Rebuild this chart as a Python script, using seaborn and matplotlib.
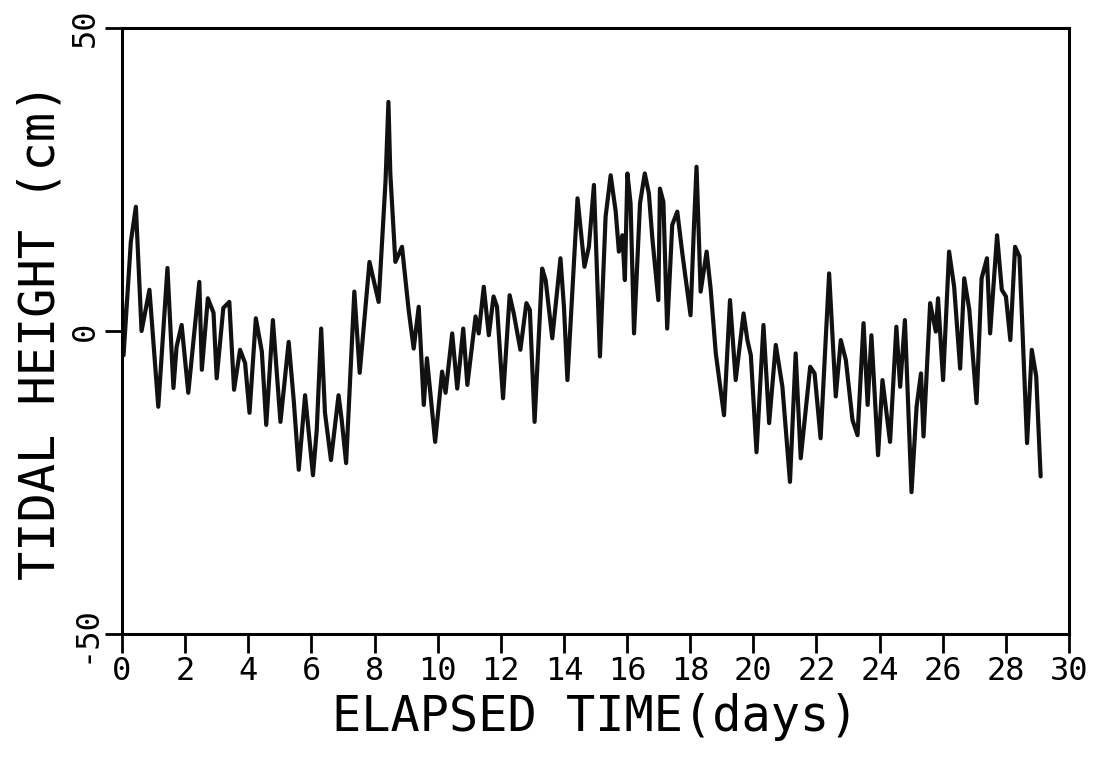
import numpy as np
import pandas as pd
import matplotlib
matplotlib.use('Agg')
import matplotlib.pyplot as plt
import seaborn as sns

## Data (elapsed time in days, tidal height in cm)
days = [0.0, 0.05, 0.28, 0.44, 0.62, 0.87, 1.15, 1.44, 1.63, 1.73, 1.89, 2.1, 2.45, 2.53,
        2.72, 2.9, 3.0, 3.21, 3.4, 3.55, 3.74, 3.9, 4.04, 4.24, 4.43, 4.57, 4.78, 5.02,
        5.28, 5.44, 5.6, 5.8, 6.05, 6.17, 6.31, 6.43, 6.62, 6.86, 6.96, 7.1, 7.36, 7.53,
        7.84, 8.13, 8.35, 8.44, 8.5, 8.66, 8.87, 9.08, 9.24, 9.4, 9.56, 9.66, 9.92, 10.14,
        10.25, 10.46, 10.62, 10.81, 10.94, 11.2, 11.3, 11.46, 11.62, 11.77, 11.88, 12.07,
        12.28, 12.41, 12.62, 12.81, 12.92, 13.07, 13.31, 13.42, 13.63, 13.89, 14.0, 14.11,
        14.43, 14.65, 14.79, 14.95, 15.14, 15.32, 15.48, 15.64, 15.74, 15.85, 15.93, 16.01,
        16.11, 16.22, 16.41, 16.56, 16.69, 16.8, 16.99, 17.04, 17.15, 17.27, 17.43, 17.59,
        17.75, 18.01, 18.12, 18.2, 18.33, 18.52, 18.65, 18.81, 19.07, 19.26, 19.44, 19.69,
        19.81, 19.92, 20.1, 20.32, 20.5, 20.71, 20.92, 21.16, 21.34, 21.5, 21.8, 21.94,
        22.13, 22.4, 22.61, 22.77, 22.93, 23.14, 23.3, 23.49, 23.62, 23.74, 23.95, 24.09,
        24.33, 24.53, 24.65, 24.8, 25.01, 25.17, 25.31, 25.39, 25.6, 25.78, 25.85, 26.01,
        26.2, 26.36, 26.55, 26.68, 26.84, 27.07, 27.23, 27.4, 27.5, 27.72, 27.87, 28.0,
        28.14, 28.29, 28.43, 28.67, 28.82, 28.96, 29.1]
height = [5, -4, 14.7, 20.5, 0, 6.8, -12.5, 10.4, -9.4, -2.6, 1, -10.2, 8.1, -6.4,
          5.4, 3, -7.8, 3.8, 4.8, -9.7, -3.1, -5.3, -13.5, 2.1, -3.4, -15.5, 1.8, -15,
          -1.8, -11.4, -22.9, -10.6, -23.8, -16.3, 0.4, -13.5, -21.3, -10.6, -14.7, -21.8, 6.5, -6.9,
          11.4, 4.8, 24.9, 37.8, 26, 11.4, 13.9, 3.5, -2.9, 4, -12.2, -4.5, -18.3, -6.7,
          -10.2, -0.4, -9.5, 0.4, -8.9, 2.4, -0.4, 7.3, -0.7, 5.7, 4, -11.1,
          5.9, 2.9, -3.1, 4.6, 3.5, -15, 10.3, 8.4, -1.2, 12, 4, -8.1,
          21.9, 10.6, 13.9, 24.1, -4.2, 18.9, 25.7, 19.7, 13.1, 15.8, 8.4, 26,
          21.1, -0.4, 21.1, 26, 22.7, 15.3, 5.1, 23.5, 21.3, 0.4, 17.5, 19.7,
          12.8, 2.6, 17.5, 27.1, 6.5, 13.1, 6.8, -3.7, -13.9, 5.1, -8.1, 2.9,
          -1.5, -4, -20, 1, -15.2, -2.3, -9.2, -24.9, -3.7, -21, -5.9, -7,
          -17.7, 9.5, -10.8, -1.5, -4.8, -14.7, -17.2, 1.3, -12.2, -0.7, -20.5, -8.1,
          -18.3, 0.7, -9.2, 1.8, -26.6, -12.5, -7, -17.4, 4.6, -0.1, 5.4, -8.1,
          13.1, 7.3, -6.2, 8.7, 3.5, -11.9, 8.7, 12, -0.4, 15.8, 6.8, 5.7,
          -1.5, 13.9, 12.3, -18.5, -3.1, -7.5, -24]

x_ticks = list(range(0, 31, 2))
y_ticks = [-50, 0, 50]

df = pd.DataFrame({'days': days, 'height': height})

sns.set_style('ticks')
plt.rcParams['font.family'] = ['DejaVu Sans Mono', 'DejaVu Sans']

fig = plt.figure(figsize=(10.95, 7.59), dpi=100)
ax = fig.add_axes([0.1114, 0.1647, 0.8649, 0.7984])

sns.lineplot(data=df, x='days', y='height', color='#111111', linewidth=3.0,
             estimator=None, sort=False, ax=ax)

ax.set_xlim(0, 30)
ax.set_ylim(-50, 50)
ax.set_xticks(x_ticks)
ax.set_yticks(y_ticks)
ax.set_xticklabels([str(t) for t in x_ticks], fontsize=23)
ax.set_yticklabels([str(t) for t in y_ticks], fontsize=23, rotation=90, va='center')

for s in ax.spines.values():
    s.set_visible(True)
    s.set_linewidth(2.2)
    s.set_color('black')

ax.tick_params(axis='x', direction='out', length=14, width=2, pad=2, colors='black')
ax.tick_params(axis='y', direction='out', length=12, width=2, pad=3, colors='black')

ax.set_xlabel('ELAPSED TIME(days)', fontsize=35, labelpad=4, color='black')
ax.set_ylabel('TIDAL HEIGHT (cm)', fontsize=35, labelpad=4, color='black')

fig.savefig('out.png', dpi=100, facecolor='white')
